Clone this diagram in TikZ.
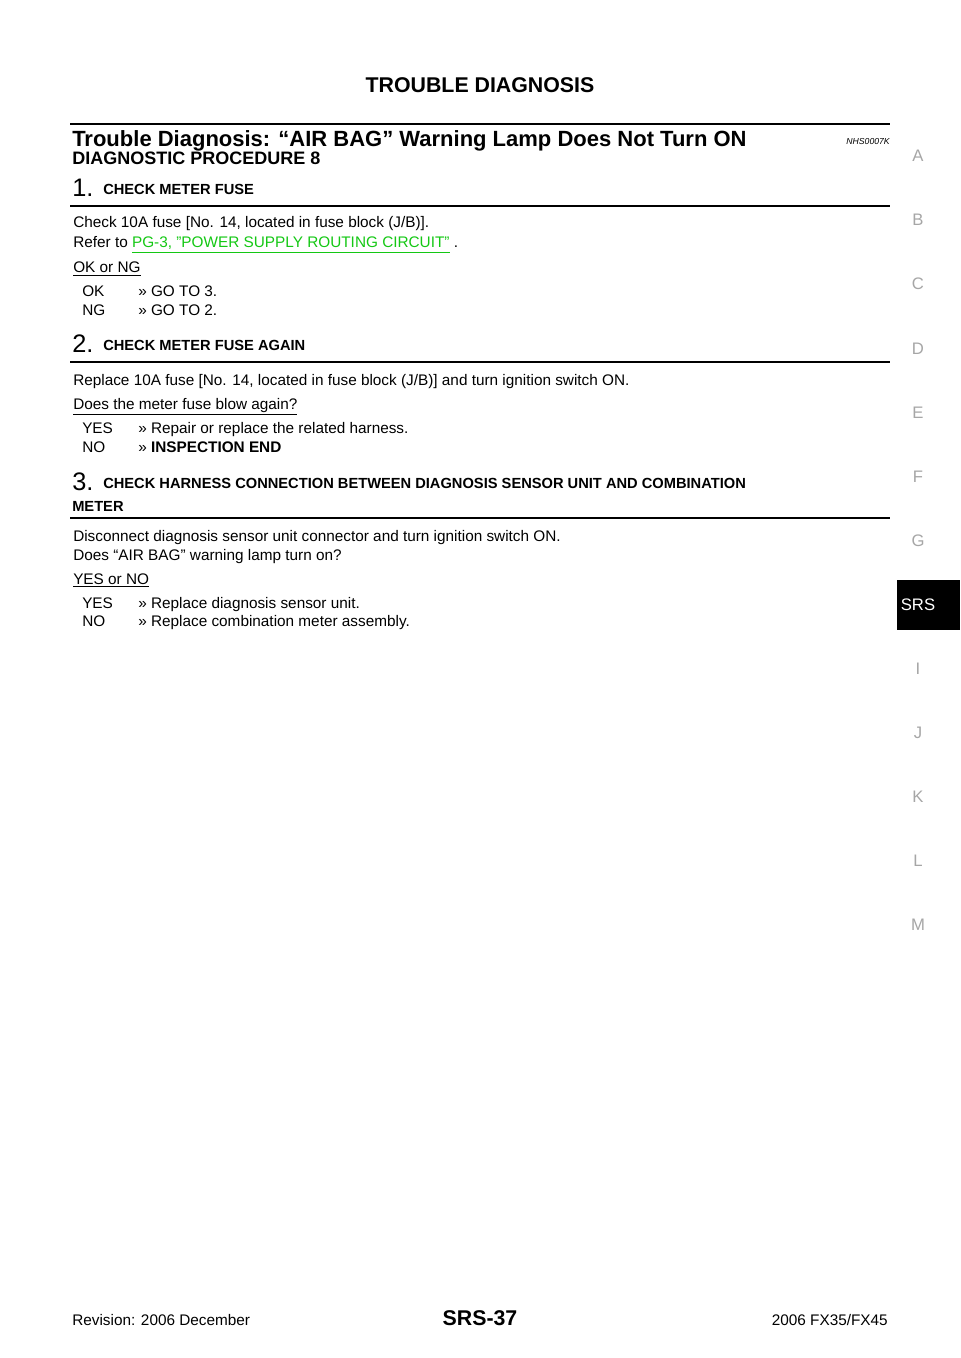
\documentclass[tikz,border=0pt]{standalone}
\usepackage{fontspec}
\setmainfont{Liberation Sans}
\newcommand{\ulx}[1]{\underline{#1}}
\begin{document}
\begin{tikzpicture}[x=0.75pt,y=-0.75pt,every node/.style={inner sep=0pt,anchor=base west}]
\tikzset{body/.style={font=\fontsize{11.5}{13}\selectfont},
 step head/.style={font=\fontsize{11}{13}\selectfont\bfseries},
 num/.style={font=\fontsize{19}{20}\selectfont},
 side/.style={anchor=base,text=black!35,font=\fontsize{12.5}{14}\selectfont}}
\useasboundingbox[fill=white] (0,0) rectangle (960,1358);
\node[anchor=base,font=\fontsize{16}{18}\selectfont\bfseries] (t) at (480,93) {TROUBLE DIAGNOSIS};
\draw[line width=2.2pt] (70,124) -- (890,124);
\node[font=\fontsize{16.5}{18}\selectfont\bfseries] (h) at (72,147) {Trouble Diagnosis: “AIR BAG” Warning Lamp Does Not Turn ON};
\node[anchor=base east,font=\fontsize{6.5}{8}\selectfont\itshape] (id) at (890,145) {NHS0007K};
\node[font=\fontsize{13.5}{15}\selectfont\bfseries] (dp) at (72,165) {DIAGNOSTIC PROCEDURE 8};
% step 1
\node[num] (n1) at (72,197) {1.};
\node[step head] (s1) at (103,195) {CHECK METER FUSE};
\draw[line width=0.8pt] (70,206) -- (890,206);
\node[body] (a1) at (73,228) {Check 10A fuse [No. 14, located in fuse block (J/B)].};
\node[body] (a2) at (73,248) {Refer to \textcolor[RGB]{20,200,20}{\ulx{PG-3, "POWER SUPPLY ROUTING CIRCUIT"}} .};
\node[body] (a3) at (73,273) {\ulx{OK or NG}};
\node[body] (a4) at (82,297) {OK};
\node[body] (a5) at (138,297) {>> GO TO 3.};
\node[body] (a6) at (82,316) {NG};
\node[body] (a7) at (138,316) {>> GO TO 2.};
% step 2
\node[num] (n2) at (72,353) {2.};
\node[step head] (s2) at (103,351) {CHECK METER FUSE AGAIN};
\draw[line width=0.8pt] (70,362) -- (890,362);
\node[body] (b1) at (73,386) {Replace 10A fuse [No. 14, located in fuse block (J/B)] and turn ignition switch ON.};
\node[body] (b2) at (73,409) {\ulx{Does the meter fuse blow again?}};
\node[body] (b3) at (82,433) {YES};
\node[body] (b4) at (138,433) {>> Repair or replace the related harness.};
\node[body] (b5) at (82,452) {NO};
\node[body] (b6) at (138,452) {>> \textbf{INSPECTION END}};
% step 3
\node[num] (n3) at (72,490) {3.};
\node[step head] (s3) at (103,488) {CHECK HARNESS CONNECTION BETWEEN DIAGNOSIS SENSOR UNIT AND COMBINATION};
\node[step head] (s3b) at (72,511) {METER};
\draw[line width=0.8pt] (70,518) -- (890,518);
\node[body] (c1) at (73,541) {Disconnect diagnosis sensor unit connector and turn ignition switch ON.};
\node[body] (c2) at (73,560) {Does “AIR BAG” warning lamp turn on?};
\node[body] (c3) at (73,584) {\ulx{YES or NO}};
\node[body] (c4) at (82,608) {YES};
\node[body] (c5) at (138,608) {>> Replace diagnosis sensor unit.};
\node[body] (c6) at (82,626) {NO};
\node[body] (c7) at (138,626) {>> Replace combination meter assembly.};
% side tabs
\foreach \l [count=\i from 0] in {A,B,C,D,E,F,G}{\node[side] (L\i) at (918,{162+64*\i}) {\l};}
\fill[black] (897,580) rectangle (960,630);
\node[side,text=white] (srs) at (918,610) {SRS};
\foreach \l [count=\i from 8] in {I,J,K,L,M}{\node[side] (L\i) at (918,{162+64*\i}) {\l};}
% footer
\node[body] (f1) at (72,1325) {Revision: 2006 December};
\node[anchor=base,font=\fontsize{16}{18}\selectfont\bfseries] (f2) at (480,1325) {SRS-37};
\node[body,anchor=base east] (f3) at (888,1325) {2006 FX35/FX45};
\end{tikzpicture}
\end{document}
